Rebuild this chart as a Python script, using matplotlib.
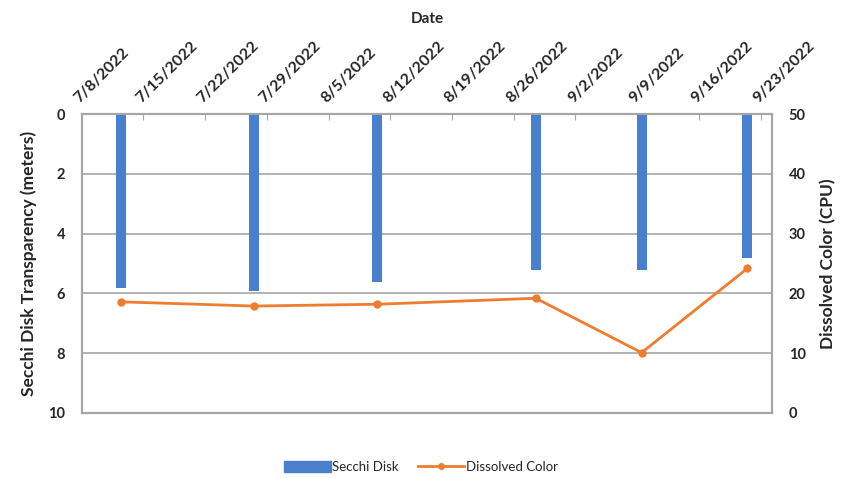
import matplotlib.pyplot as plt
from matplotlib.patches import Patch
from matplotlib.lines import Line2D

# ---------- Data ----------
# days counted from 7/8/2022
tick_days = [0, 7, 14, 21, 28, 35, 42, 49, 56, 63, 70, 77]
tick_labels = ["7/8/2022", "7/15/2022", "7/22/2022", "7/29/2022", "8/5/2022",
               "8/12/2022", "8/19/2022", "8/26/2022", "9/2/2022", "9/9/2022",
               "9/16/2022", "9/23/2022"]

sample_days = [4, 19, 33, 51, 63, 75]   # 7/12, 7/27, 8/10, 8/28, 9/9, 9/21
secchi = [5.8, 5.9, 5.6, 5.2, 5.2, 4.8]
dissolved_color = [18.6, 17.9, 18.2, 19.2, 10.1, 24.2]

# ---------- Style ----------
plt.rcParams['font.family'] = ['Lato', 'DejaVu Sans']
blue = "#4a7fcc"
orange = "#ed7d31"
grey = "#a6a6a6"
text_c = "#262626"

fig = plt.figure(figsize=(8.42, 4.78), dpi=100)
ax = fig.add_axes([0.097, 0.136, 0.82, 0.625])
ax2 = ax.twinx()

# points sit in the middle of their day slot (Excel date axis)
xs = [d + 0.5 for d in sample_days]

ax.bar(xs, secchi, width=1.15, color=blue, zorder=3)
ax2.plot(xs, dissolved_color, color=orange, lw=2, marker="o", ms=5, zorder=4)

ax.set_xlim(0.2, 78.3)
ax.set_ylim(10, 0)
ax2.set_ylim(0, 50)

ax.set_yticks([0, 2, 4, 6, 8, 10])
ax2.set_yticks([0, 10, 20, 30, 40, 50])
ax.grid(axis="y", color=grey, lw=1.2, zorder=0)

ax.xaxis.tick_top()
ax.xaxis.set_label_position("top")
ax.set_xticks(tick_days)
ax.set_xticklabels(tick_labels, rotation=45, ha="left", va="bottom",
                   rotation_mode="anchor", fontsize=11.5, fontweight="bold",
                   color=text_c)
ax.tick_params(axis="x", direction="in", length=4, color=grey, pad=6)
ax.tick_params(axis="y", length=0, labelsize=10.5, labelcolor=text_c, pad=12)
ax2.tick_params(axis="y", length=0, labelsize=10.5, labelcolor=text_c, pad=12)
for lbl in ax.get_yticklabels() + ax2.get_yticklabels():
    lbl.set_fontweight("bold")

ax.set_xlabel("Date", fontsize=11, fontweight="bold", color=text_c, labelpad=12)
ax.set_ylabel("Secchi Disk Transparency (meters)", fontsize=12.5,
              fontweight="bold", color=text_c, labelpad=8)
ax2.set_ylabel("Dissolved Color (CPU)", fontsize=12.5, fontweight="bold",
               color=text_c, labelpad=10)

for a in (ax, ax2):
    for s in a.spines.values():
        s.set_color(grey)
        s.set_linewidth(1.5)

# ---------- Legend ----------
handles = [Patch(color=blue),
           Line2D([], [], color=orange, lw=2, marker="o", ms=4)]
fig.legend(handles, ["Secchi Disk", "Dissolved Color"], loc="lower center",
           ncol=2, frameon=False, bbox_to_anchor=(0.5, -0.015),
           prop={"size": 9.5}, handlelength=3.5,
           handleheight=0.9, handletextpad=0.1, columnspacing=1.5,
           labelcolor=text_c)

fig.savefig("out.png", dpi=100)
